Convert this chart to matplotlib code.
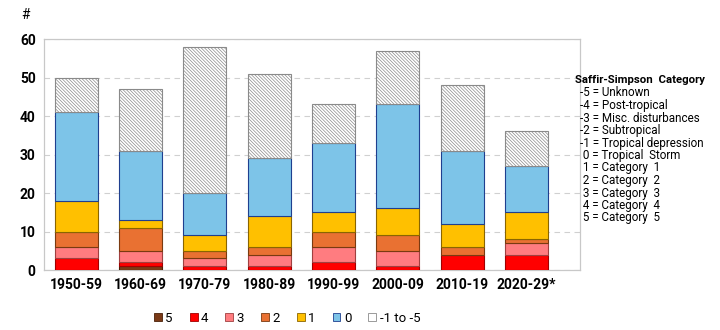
import numpy as np
import matplotlib
matplotlib.use('Agg')
import matplotlib.pyplot as plt
from matplotlib.patches import Patch

decades = ["1950-59", "1960-69", "1970-79", "1980-89", "1990-99", "2000-09", "2010-19", "2020-29*"]

# counts per Saffir-Simpson category, bottom to top
cat5 = [0, 1, 0, 0, 0, 0, 0, 0]
cat4 = [3, 1, 1, 1, 2, 1, 4, 4]
cat3 = [3, 3, 2, 3, 4, 4, 0, 3]
cat2 = [4, 6, 2, 2, 4, 4, 2, 1]
cat1 = [8, 2, 4, 8, 5, 7, 6, 7]
cat0 = [23, 18, 11, 15, 18, 27, 19, 12]
other = [9, 16, 38, 22, 10, 14, 17, 9]

series = [
    ("5", cat5, "#7B3A17", "#4a2008"),
    ("4", cat4, "#FF0000", "#a00000"),
    ("3", cat3, "#FF7C80", "#a04040"),
    ("2", cat2, "#E97132", "#7a3a10"),
    ("1", cat1, "#FFC000", "#8a6500"),
    ("0", cat0, "#7DC4E8", "#1f3f8f"),
]

key_lines = [
    "-5 = Unknown",
    "-4 = Post-tropical",
    "-3 = Misc. disturbances",
    "-2 = Subtropical",
    "-1 = Tropical depression",
    " 0 = Tropical  Storm",
    " 1 = Category  1",
    " 2 = Category  2",
    " 3 = Category  3",
    " 4 = Category  4",
    " 5 = Category  5",
]

plt.rcParams['font.family'] = ['Roboto', 'DejaVu Sans']
plt.rcParams['hatch.color'] = '#c8c8c8'
plt.rcParams['hatch.linewidth'] = 0.5

fig = plt.figure(figsize=(7.2, 3.3), dpi=100)
ax = fig.add_axes([44 / 720, 1 - 270 / 330, (580 - 44) / 720, (270 - 39) / 330])

x = np.arange(len(decades))
width = 0.67
bottom = np.zeros(len(decades))
handles = []
for name, vals, color, edge in series:
    vals = np.array(vals, dtype=float)
    ax.bar(x, vals, width, bottom=bottom, color=color, edgecolor=edge, linewidth=0.8, zorder=3)
    bottom += vals
    handles.append(Patch(facecolor=color, edgecolor=edge, linewidth=0.6, label=name))

ax.bar(x, other, width, bottom=bottom, color="white", edgecolor="#8a8a8a",
       hatch="\\" * 10, linewidth=0.8, zorder=3)
handles.append(Patch(facecolor="white", edgecolor="#8a8a8a", linewidth=0.6, label="-1 to -5"))

ax.set_xlim(-0.5, 7.83)
ax.set_ylim(0, 60)
ax.set_yticks(range(0, 61, 10))
ax.set_xticks(x)
ax.set_xticklabels(decades)
ax.tick_params(length=0, labelsize=10, pad=6)
for lab in ax.get_xticklabels() + ax.get_yticklabels():
    lab.set_fontweight('bold')
ax.yaxis.grid(True, linestyle=(0, (5, 4)), color="#d0d0d0", linewidth=0.8, zorder=0)
for side in ax.spines.values():
    side.set_color("#c8c8c8")
    side.set_linewidth(0.9)

fig.text(25 / 720, 1 - 15 / 330, "#", fontsize=10, ha='center', va='center')

fig.legend(handles=handles, loc='center', bbox_to_anchor=(287 / 720, 1 - 318 / 330), ncol=7,
           frameon=False, fontsize=9.5, handlelength=0.6, handleheight=0.6,
           handletextpad=0.25, columnspacing=1.3)

fig.text(575 / 720, 1 - 80 / 330, "Saffir-Simpson  Category", fontsize=8.2,
         fontweight='bold', va='center', ha='left')
for i, line in enumerate(key_lines):
    fig.text(580 / 720, 1 - (93 + i * 12.5) / 330, line, fontsize=8.4, va='center', ha='left')

fig.savefig("out.png", dpi=100)
